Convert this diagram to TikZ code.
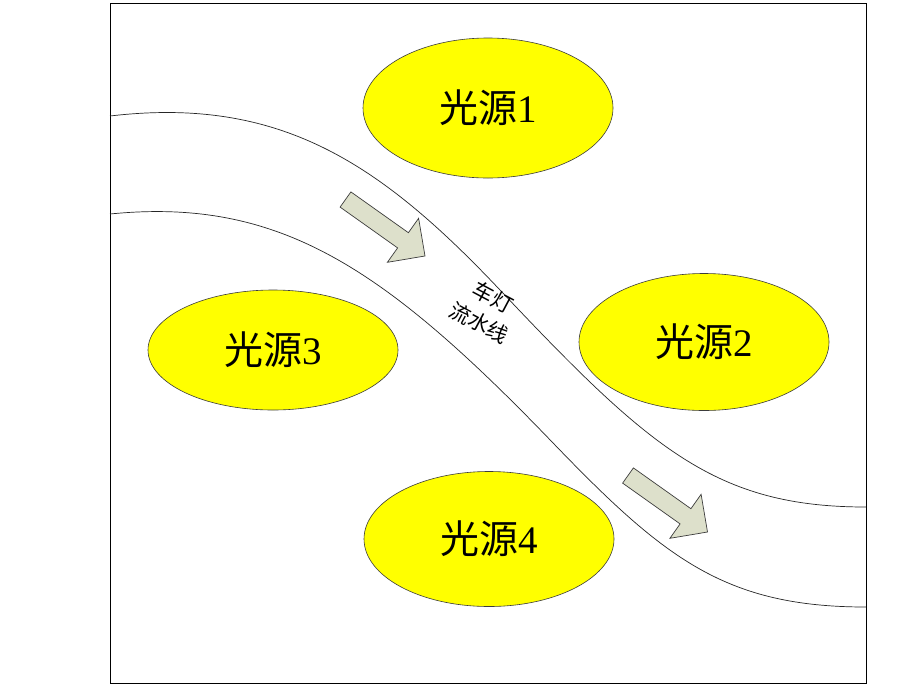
\documentclass[tikz,border=0pt]{standalone}
\usepackage{fontspec}
\setmainfont{Liberation Serif}
\newfontfamily\cjk{Noto Sans CJK SC}
\usetikzlibrary{shapes.geometric}
\definecolor{lampyellow}{RGB}{255,255,0}
\definecolor{arrowfill}{RGB}{221,224,203}
\definecolor{edgegray}{RGB}{60,60,60}
\tikzset{
  lamp/.style={ellipse, draw=edgegray, line width=0.6pt, fill=lampyellow, inner sep=0pt,
    minimum width=250pt, font=\fontsize{39}{44}\selectfont},
  road/.style={draw=black!85, line width=0.7pt},
  flowarrow/.style={draw=edgegray, line width=0.7pt, fill=arrowfill, line join=miter},
  frame/.style={draw=black, line width=1pt}
}
\newcommand{\flowarr}[1]{%
  \draw[flowarrow, shift={#1}] (5.4,-7.6) -- (62.9,33.2) -- (73.1,18.8) -- (79.5,56.5)
    -- (41.9,62.8) -- (52.1,48.4) -- (-5.4,7.6) -- cycle;}
\begin{document}
\begin{tikzpicture}[x=1pt,y=-1pt]
\useasboundingbox (0,0) rectangle (901,686);
\fill[white] (0,0) rectangle (901,686);
\draw[frame] (110,3) rectangle (866,683);
% flow-line curves
\draw[road] (110,116) .. controls (280,96) and (380,163) .. (500,290)
  .. controls (650,449) and (716,507) .. (866,507);
\draw[road] (110,214) .. controls (280,197) and (385,268) .. (555,445)
  .. controls (665,559) and (726,607) .. (866,607);
% light sources
\node[lamp, minimum height=140pt] (s1) at (488,108) {{\cjk 光源}1};
\node[lamp, minimum height=137pt] (s2) at (704,342) {{\cjk 光源}2};
\node[lamp, minimum height=120pt] (s3) at (273,350) {{\cjk 光源}3};
\node[lamp, minimum height=135pt] (s4) at (489,539) {{\cjk 光源}4};
% direction arrows
\flowarr{(345.5,199.5)}
\flowarr{(628,475.5)}
% label
\node[rotate=-28, align=center, inner sep=0pt, font=\cjk\fontsize{21}{29}\selectfont] (lbl) at (486,310) {车灯\\流水线};
\end{tikzpicture}
\end{document}
